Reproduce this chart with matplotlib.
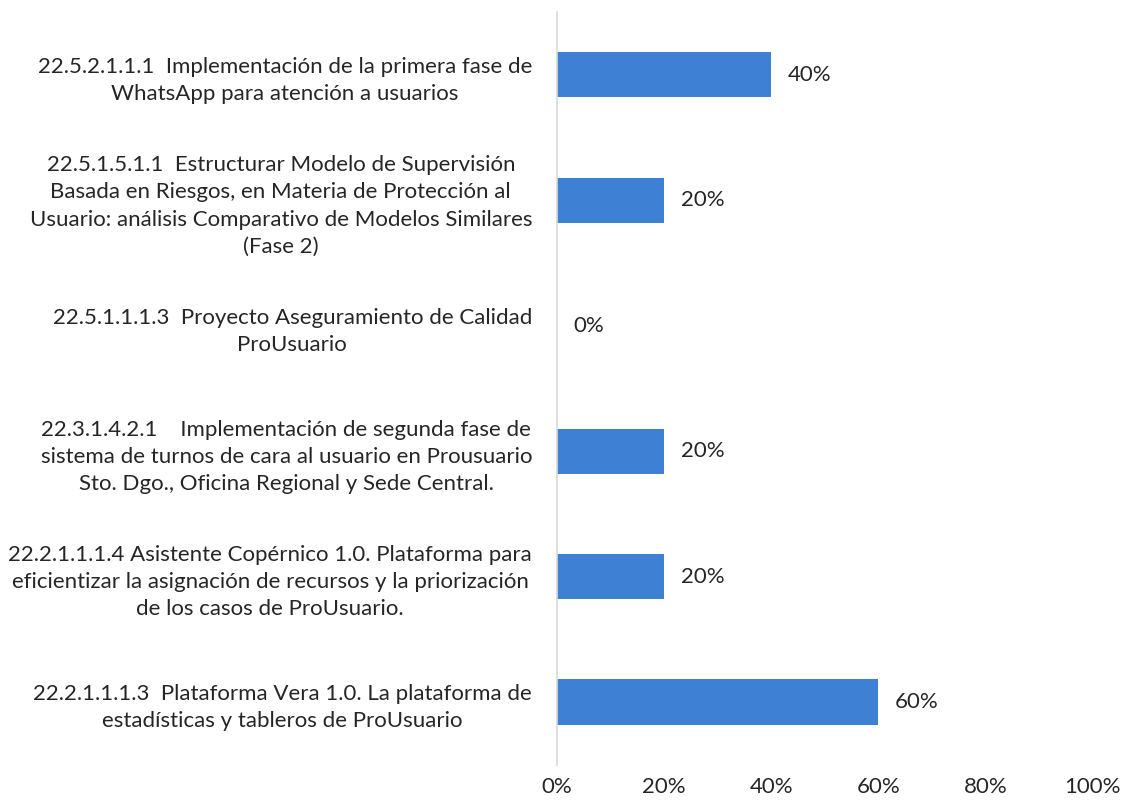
import matplotlib
matplotlib.use("Agg")
import matplotlib.pyplot as plt
from matplotlib.ticker import FuncFormatter

plt.rcParams["font.family"] = ["Lato", "DejaVu Sans"]

CATEGORIES = [
    "22.5.2.1.1.1  Implementación de la primera fase de\nWhatsApp para atención a usuarios",
    "22.5.1.5.1.1  Estructurar Modelo de Supervisión\nBasada en Riesgos, en Materia de Protección al\nUsuario: análisis Comparativo de Modelos Similares\n(Fase 2)",
    "22.5.1.1.1.3  Proyecto Aseguramiento de Calidad\nProUsuario",
    "22.3.1.4.2.1    Implementación de segunda fase de\nsistema de turnos de cara al usuario en Prousuario\nSto. Dgo., Oficina Regional y Sede Central.",
    "22.2.1.1.1.4 Asistente Copérnico 1.0. Plataforma para\neficientizar la asignación de recursos y la priorización\nde los casos de ProUsuario.",
    "22.2.1.1.1.3  Plataforma Vera 1.0. La plataforma de\nestadísticas y tableros de ProUsuario",
]
PROGRESS = [0.40, 0.20, 0.0, 0.20, 0.20, 0.60]
X_TICKS = [0.0, 0.2, 0.4, 0.6, 0.8, 1.0]

BAR_COLOR = "#3d80d4"
INK = "#262626"

fig = plt.figure(figsize=(11.23, 8.11), dpi=100)
ax = fig.add_axes([0.496, 0.057, 0.477, 0.928])

y = list(range(len(CATEGORIES)))
bars = ax.barh(y, PROGRESS, height=0.36, color=BAR_COLOR, linewidth=0)
ax.set_ylim(len(CATEGORIES) - 0.5, -0.5)
ax.set_xlim(0, 1.0)

ax.set_yticks(y, labels=CATEGORIES)
for lbl in ax.get_yticklabels():
    lbl.set_multialignment("center")
    lbl.set_fontsize(16)
    lbl.set_color(INK)
    lbl.set_linespacing(1.45)
ax.tick_params(axis="y", length=0, pad=18)

ax.set_xticks(X_TICKS)
ax.xaxis.set_major_formatter(FuncFormatter(lambda v, _: f"{v:.0%}"))
ax.tick_params(axis="x", length=0, pad=9, labelsize=16, labelcolor=INK)

for bar, value in zip(bars, PROGRESS):
    ax.annotate(f"{value:.0%}", (bar.get_width(), bar.get_y() + bar.get_height() / 2),
                xytext=(12, 0), textcoords="offset points", va="center", ha="left",
                fontsize=16, color=INK)

for side in ["top", "right", "bottom"]:
    ax.spines[side].set_visible(False)
ax.spines["left"].set_color("#d9d9d9")
ax.spines["left"].set_linewidth(1.2)

fig.savefig("out.png", dpi=100, facecolor="white")
